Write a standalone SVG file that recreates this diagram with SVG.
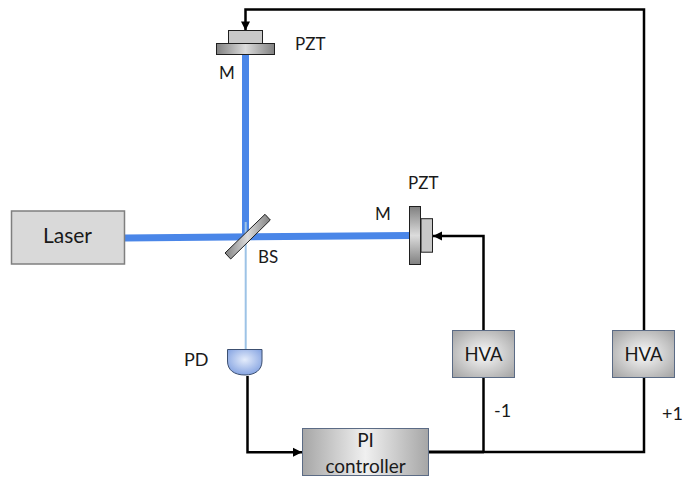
<svg xmlns="http://www.w3.org/2000/svg" width="683" height="477" viewBox="0 0 683 477">
<defs>
<radialGradient id="box" cx="50%" cy="50%" r="65%"><stop offset="0" stop-color="#fafafa"/><stop offset="1" stop-color="#a8a8a8"/></radialGradient>
<linearGradient id="pi" x1="0" x2="1" y1="0" y2="0"><stop offset="0" stop-color="#a6a6a6"/><stop offset=".5" stop-color="#f0f0f0"/><stop offset="1" stop-color="#a6a6a6"/></linearGradient>
<linearGradient id="mh" x1="0" x2="1" y1="0" y2="0"><stop offset="0" stop-color="#808080"/><stop offset=".5" stop-color="#dcdcdc"/><stop offset="1" stop-color="#808080"/></linearGradient>
<linearGradient id="mv" x1="0" x2="0" y1="0" y2="1"><stop offset="0" stop-color="#808080"/><stop offset=".5" stop-color="#dcdcdc"/><stop offset="1" stop-color="#808080"/></linearGradient>
<radialGradient id="pd" cx="50%" cy="40%" r="65%"><stop offset="0" stop-color="#e4ecfb"/><stop offset="1" stop-color="#7f9fe0"/></radialGradient>
<marker id="ah" markerUnits="userSpaceOnUse" markerWidth="12" markerHeight="12" refX="10" refY="6" orient="auto"><path d="M1 1.500 L10 6 L1 10.500 Z" fill="#000"/></marker>
</defs>
<style>
text{font-family:Lato,"Liberation Sans",sans-serif;fill:#1a1a1a;font-size:17px}
.c{text-anchor:middle}
.w{fill:none;stroke:#000;stroke-width:2.5}
.a{marker-end:url(#ah)}
.b{fill:none;stroke:#4a86e8;stroke-width:7}
.o{stroke:#1f1f1f;stroke-width:1}
.n{stroke:#5b6b85;stroke-width:1}
.l{font-size:19px}
</style>
<g id="connectors">
<path class="b" d="M245.500 54V236"/>
<path class="b" d="M125 238L410 235.500"/>
<path d="M245.700 222V350" fill="none" stroke="#9dc3e6" stroke-width="2"/>
<path class="w a" d="M644 330V9.500H245.500V30.500"/>
<path class="w" d="M644 378V452H484"/>
<path class="w" d="M429 452H484" style="stroke-width:3"/>
<path class="w a" d="M483.500 330V236H433"/>
<path class="w" d="M483.500 378V452"/>
<path class="w a" d="M247.500 376V452.300H302"/>
</g>
<g id="laser"><rect x="11.500" y="211" width="113" height="53" fill="#d9d9d9" stroke="#7f7f7f" stroke-width="1.500"/><text class="c" x="67.500" y="243" style="font-size:21px">Laser</text></g>
<g id="top-pzt"><rect class="o" x="228.500" y="30.500" width="34" height="13" fill="#c9c9c9"/><text x="295" y="50">PZT</text></g>
<g id="top-mirror"><rect class="o" x="216.500" y="43.500" width="58" height="11" fill="url(#mh)"/><text x="219" y="79">M</text></g>
<g id="beam-splitter"><path class="o" d="M265 214.300L270.300 220L230.700 259L225 253Z" fill="url(#mh)"/><text x="258" y="263">BS</text></g>
<g id="right-pzt"><rect class="o" x="421" y="218.700" width="11.500" height="33.500" fill="#c9c9c9"/><text x="408" y="189">PZT</text></g>
<g id="right-mirror"><rect class="o" x="409.500" y="206.500" width="11" height="58" fill="url(#mv)"/><text x="375" y="220">M</text></g>
<g id="pd-node"><path d="M227.500 349.500H262V361C262 370 255 375 245 375C234 375 227.500 370 227.500 361Z" fill="url(#pd)" stroke="#3c4f70" stroke-width="1"/><text x="184" y="366" style="font-size:18px">PD</text></g>
<g id="pi-controller"><rect class="n" x="302.500" y="428.500" width="126" height="47" fill="url(#pi)"/><text class="c l" x="365.500" y="447">PI</text><text class="c l" x="365.500" y="472.500">controller</text></g>
<g id="hva-1"><rect class="n" x="452.500" y="330.500" width="62" height="47" fill="url(#box)"/><text class="c" x="483.500" y="361" style="font-size:18.500px">HVA</text><text x="494" y="417" style="font-size:18px">-1</text></g>
<g id="hva-2"><rect class="n" x="612.500" y="330.500" width="62" height="47" fill="url(#box)"/><text class="c" x="643.500" y="361" style="font-size:18.500px">HVA</text><text x="662" y="420" style="font-size:18px">+1</text></g>
</svg>
